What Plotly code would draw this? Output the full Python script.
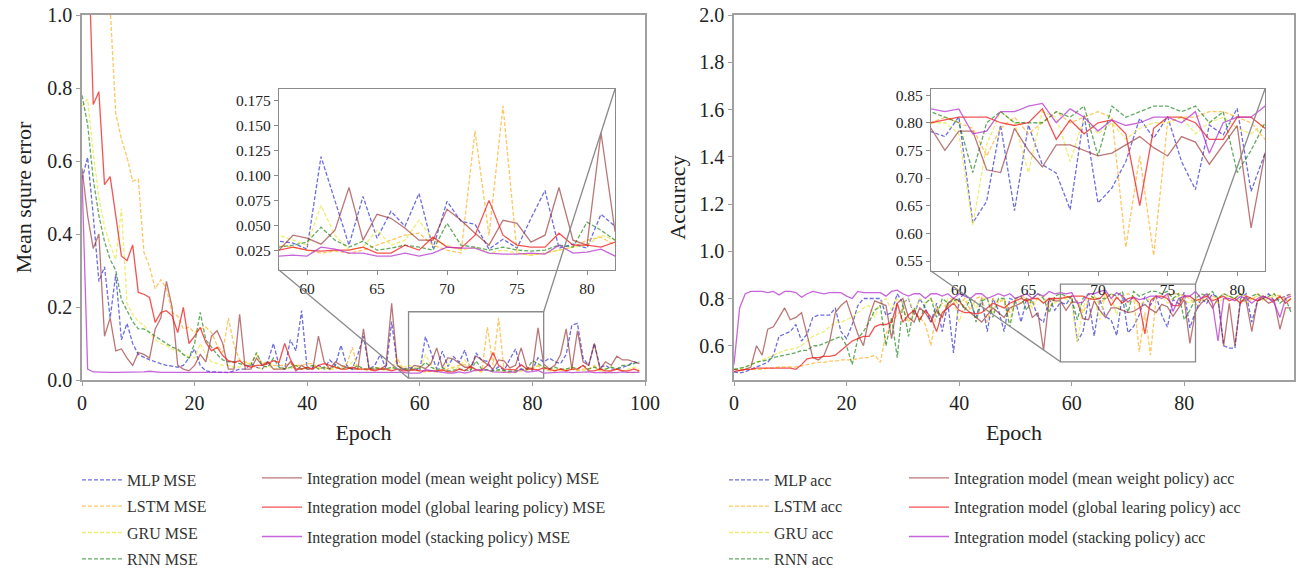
import plotly.graph_objects as go

epochs = list(range(100))

# ---------------- MSE data (epochs 0..99) ----------------
mlp_mse = [0.55,0.61,0.45,0.27,0.31,0.17,0.29,0.11,0.155,0.10,
           0.07,0.062,0.055,0.05,0.045,0.04,0.038,0.035,0.04,0.06,
           0.085,0.04,0.025,0.022,0.022,0.02,0.02,0.025,0.03,0.03,
           0.045,0.035,0.03,0.05,0.1,0.04,0.03,0.11,0.08,0.19,
           0.03,0.035,0.04,0.03,0.055,0.04,0.095,0.04,0.03,0.07,
           0.12,0.03,0.04,0.07,0.03,0.16,0.04,0.03,
           0.034,0.032,0.026,0.119,0.074,0.03,0.079,0.037,0.064,0.049,0.082,0.027,
           0.074,0.054,0.051,0.026,0.036,0.027,0.057,0.085,0.027,0.031,0.027,0.061,0.049,
           0.06,0.05,0.045,0.07,0.15,0.155,0.06,0.04,0.1,0.035,0.04,0.03,0.03,0.035,0.04,0.05,0.045]
lstm_mse = [1.9,1.6,1.4,1.25,1.12,1.02,0.73,0.66,0.61,0.545,
            0.55,0.35,0.31,0.25,0.275,0.25,0.185,0.175,0.14,0.145,
            0.13,0.14,0.145,0.13,0.095,0.075,0.17,0.095,0.055,0.05,
            0.045,0.07,0.045,0.05,0.04,0.04,0.04,0.045,0.04,0.04,
            0.045,0.045,0.03,0.035,0.03,0.03,0.035,0.04,0.09,0.03,
            0.03,0.025,0.03,0.035,0.03,0.03,0.06,0.03,
            0.03,0.028,0.025,0.022,0.024,0.022,0.025,0.03,0.035,0.04,0.042,0.03,
            0.025,0.022,0.145,0.04,0.17,0.022,0.02,0.022,0.025,0.028,0.035,0.038,0.03,
            0.025,0.025,0.03,0.025,0.03,0.025,0.03,0.03,0.04,0.025,0.02,0.025,0.03,0.025,0.02,0.02,0.025]
gru_mse = [0.75,0.77,0.62,0.5,0.42,0.37,0.33,0.47,0.21,0.18,
           0.16,0.15,0.13,0.11,0.1,0.095,0.085,0.08,0.07,0.065,
           0.06,0.1,0.07,0.05,0.045,0.04,0.04,0.035,0.035,0.05,
           0.04,0.035,0.03,0.04,0.03,0.03,0.035,0.03,0.04,0.03,
           0.03,0.04,0.035,0.03,0.03,0.035,0.03,0.03,0.05,0.03,
           0.03,0.03,0.035,0.03,0.025,0.03,0.04,0.035,
           0.04,0.035,0.03,0.07,0.04,0.025,0.028,0.045,0.03,0.035,0.055,0.035,
           0.03,0.025,0.028,0.022,0.025,0.022,0.02,0.022,0.025,0.028,0.03,0.04,0.035,
           0.03,0.03,0.025,0.03,0.035,0.03,0.025,0.03,0.035,0.025,0.03,0.035,0.03,0.025,0.03,0.035,0.03]
rnn_mse = [0.78,0.7,0.55,0.45,0.38,0.33,0.3,0.22,0.19,0.16,
           0.14,0.14,0.13,0.12,0.11,0.1,0.09,0.085,0.07,0.06,
           0.1,0.185,0.11,0.09,0.07,0.055,0.05,0.05,0.045,0.04,
           0.04,0.075,0.04,0.035,0.06,0.035,0.03,0.035,0.04,0.03,
           0.035,0.04,0.03,0.035,0.03,0.04,0.03,0.035,0.03,0.04,
           0.03,0.03,0.035,0.03,0.03,0.035,0.03,0.03,
           0.028,0.03,0.033,0.048,0.035,0.028,0.034,0.025,0.027,0.03,0.028,0.025,
           0.052,0.03,0.028,0.025,0.028,0.025,0.024,0.025,0.03,0.028,0.053,0.045,0.035,
           0.03,0.035,0.03,0.03,0.035,0.03,0.04,0.03,0.035,0.03,0.03,0.035,0.03,0.04,0.04,0.045,0.05]
mean_mse = [0.58,0.45,0.36,0.4,0.12,0.17,0.08,0.085,0.06,0.04,
            0.075,0.07,0.06,0.14,0.17,0.27,0.2,0.04,0.03,0.025,
            0.04,0.07,0.05,0.12,0.135,0.1,0.03,0.03,0.18,0.03,
            0.03,0.06,0.04,0.05,0.03,0.03,0.03,0.05,0.025,0.04,
            0.03,0.03,0.12,0.05,0.03,0.05,0.04,0.035,0.03,0.03,
            0.14,0.03,0.03,0.03,0.04,0.21,0.04,0.03,
            0.025,0.04,0.037,0.031,0.045,0.088,0.035,0.061,0.057,0.047,0.035,0.035,
            0.066,0.055,0.042,0.03,0.055,0.052,0.033,0.04,0.088,0.035,0.03,0.143,0.044,
            0.03,0.04,0.07,0.14,0.03,0.135,0.05,0.04,0.1,0.03,0.05,0.04,0.065,0.055,0.055,0.05,0.045]
global_mse = [1.6,1.25,0.755,0.79,0.535,0.557,0.45,0.34,0.327,0.37,
              0.24,0.235,0.226,0.158,0.185,0.19,0.176,0.13,0.199,0.1,
              0.12,0.144,0.103,0.08,0.09,0.067,0.053,0.048,0.053,0.04,
              0.035,0.04,0.04,0.045,0.053,0.048,0.1,0.057,0.03,0.03,
              0.035,0.03,0.04,0.045,0.04,0.035,0.03,0.03,0.035,0.03,
              0.03,0.03,0.025,0.03,0.03,0.025,0.03,0.025,
              0.025,0.028,0.025,0.024,0.025,0.025,0.028,0.022,0.022,0.03,0.025,0.038,
              0.028,0.027,0.04,0.075,0.04,0.03,0.028,0.028,0.042,0.03,0.03,0.028,0.033,
              0.03,0.025,0.03,0.025,0.03,0.03,0.04,0.025,0.025,0.03,0.025,0.025,0.03,0.025,0.025,0.03,0.025]
stack_mse = [0.56,0.03,0.022,0.021,0.021,0.021,0.021,0.021,0.021,0.021,
             0.022,0.022,0.024,0.022,0.021,0.021,0.021,0.021,0.021,0.021,
             0.021,0.022,0.021,0.021,0.021,0.021,0.021,0.021,0.022,0.021,
             0.021,0.02,0.02,0.021,0.02,0.02,0.021,0.02,0.02,0.021,
             0.02,0.02,0.021,0.02,0.02,0.021,0.02,0.02,0.021,0.02,
             0.02,0.021,0.02,0.02,0.021,0.02,0.02,0.021,
             0.019,0.02,0.019,0.028,0.026,0.022,0.022,0.019,0.019,0.022,0.019,0.022,
             0.028,0.027,0.027,0.022,0.021,0.021,0.022,0.021,0.03,0.022,0.023,0.026,0.019,
             0.02,0.021,0.02,0.022,0.02,0.021,0.02,0.022,0.02,0.021,0.02,0.021,0.02,0.022,0.021,0.02,0.021]

# ---------------- Accuracy data (epochs 0..99) ----------------
mlp_acc = [0.49,0.485,0.49,0.5,0.51,0.52,0.53,0.56,0.64,0.65,
           0.66,0.69,0.62,0.65,0.72,0.73,0.73,0.73,0.76,0.66,
           0.63,0.69,0.77,0.8,0.8,0.8,0.8,0.73,0.74,0.82,
           0.78,0.8,0.73,0.8,0.76,0.7,0.78,0.66,0.78,0.57,
           0.8,0.82,0.79,0.72,0.8,0.66,0.8,0.75,0.66,0.8,
           0.79,0.7,0.8,0.79,0.72,0.7,0.8,0.75,
           0.784,0.775,0.811,0.619,0.658,0.796,0.641,0.796,0.724,0.709,0.643,0.814,
           0.655,0.682,0.73,0.808,0.772,0.811,0.73,0.679,0.796,0.778,0.826,0.676,0.745,
           0.8,0.78,0.82,0.8,0.6,0.59,0.59,0.8,0.82,0.7,0.79,0.8,0.82,0.79,0.8,0.81,0.82]
lstm_acc = [0.5,0.5,0.5,0.5,0.5,0.5,0.505,0.505,0.51,0.51,
            0.51,0.51,0.515,0.52,0.525,0.53,0.53,0.535,0.535,0.54,
            0.54,0.54,0.545,0.55,0.55,0.56,0.53,0.65,0.7,0.73,
            0.76,0.7,0.74,0.72,0.69,0.6,0.75,0.78,0.76,0.8,
            0.77,0.8,0.75,0.8,0.81,0.7,0.8,0.78,0.8,0.74,
            0.8,0.81,0.8,0.78,0.8,0.81,0.76,0.8,
            0.80,0.81,0.80,0.79,0.74,0.79,0.81,0.78,0.80,0.82,0.80,0.81,
            0.82,0.81,0.575,0.74,0.56,0.80,0.81,0.81,0.82,0.82,0.81,0.80,0.77,
            0.8,0.82,0.81,0.8,0.82,0.81,0.8,0.82,0.81,0.79,0.82,0.81,0.8,0.82,0.81,0.8,0.82]
gru_acc = [0.5,0.5,0.51,0.52,0.53,0.54,0.55,0.56,0.57,0.58,
           0.585,0.59,0.6,0.62,0.64,0.65,0.66,0.68,0.7,0.7,
           0.71,0.72,0.74,0.76,0.77,0.72,0.78,0.8,0.75,0.8,
           0.78,0.8,0.74,0.8,0.78,0.8,0.76,0.72,0.8,0.8,
           0.7,0.78,0.8,0.76,0.8,0.8,0.74,0.8,0.78,0.7,
           0.8,0.78,0.8,0.76,0.8,0.78,0.8,0.78,
           0.80,0.80,0.78,0.615,0.76,0.82,0.80,0.71,0.82,0.81,0.73,0.81,
           0.78,0.80,0.77,0.79,0.80,0.80,0.81,0.78,0.80,0.81,0.79,0.78,0.80,
           0.79,0.81,0.8,0.78,0.8,0.81,0.79,0.8,0.78,0.8,0.81,0.79,0.8,0.81,0.8,0.79,0.8]
rnn_acc = [0.5,0.505,0.51,0.52,0.53,0.535,0.54,0.55,0.555,0.56,
           0.565,0.57,0.58,0.58,0.6,0.6,0.61,0.62,0.63,0.64,
           0.6,0.52,0.63,0.66,0.7,0.75,0.77,0.6,0.72,0.55,
           0.78,0.64,0.76,0.7,0.78,0.8,0.72,0.8,0.78,0.79,
           0.8,0.75,0.8,0.7,0.79,0.8,0.72,0.8,0.8,0.68,
           0.8,0.81,0.75,0.8,0.82,0.8,0.74,0.81,
           0.82,0.81,0.80,0.71,0.80,0.82,0.80,0.80,0.80,0.82,0.81,0.83,
           0.74,0.83,0.81,0.82,0.83,0.83,0.82,0.83,0.80,0.82,0.71,0.75,0.80,
           0.82,0.81,0.83,0.8,0.82,0.81,0.8,0.82,0.79,0.81,0.82,0.8,0.81,0.82,0.78,0.8,0.74]
mean_acc = [0.5,0.495,0.5,0.51,0.6,0.56,0.67,0.68,0.72,0.76,
            0.71,0.72,0.74,0.64,0.55,0.54,0.56,0.62,0.74,0.77,
            0.79,0.72,0.65,0.6,0.72,0.79,0.78,0.77,0.63,0.78,
            0.8,0.72,0.7,0.76,0.74,0.7,0.75,0.72,0.78,0.8,
            0.79,0.76,0.74,0.72,0.7,0.73,0.76,0.74,0.72,0.76,
            0.77,0.78,0.8,0.72,0.74,0.58,0.8,0.79,
            0.79,0.75,0.785,0.785,0.715,0.71,0.79,0.75,0.72,0.76,0.76,0.75,
            0.74,0.745,0.76,0.775,0.755,0.74,0.775,0.765,0.725,0.76,0.795,0.61,0.745,
            0.78,0.8,0.76,0.8,0.6,0.78,0.6,0.79,0.79,0.66,0.79,0.8,0.78,0.79,0.67,0.76,0.76]
global_acc = [0.49,0.495,0.5,0.5,0.505,0.505,0.505,0.505,0.505,0.505,
              0.505,0.5,0.52,0.545,0.55,0.55,0.555,0.555,0.56,0.58,
              0.6,0.62,0.63,0.64,0.64,0.68,0.69,0.69,0.7,0.78,
              0.7,0.73,0.75,0.71,0.75,0.72,0.66,0.74,0.76,0.78,
              0.75,0.74,0.74,0.735,0.74,0.76,0.78,0.77,0.76,0.78,
              0.79,0.8,0.79,0.8,0.8,0.78,0.8,0.8,
              0.80,0.805,0.81,0.81,0.81,0.80,0.795,0.80,0.825,0.77,0.805,0.78,
              0.80,0.805,0.78,0.65,0.79,0.81,0.81,0.80,0.77,0.77,0.81,0.81,0.79,
              0.8,0.81,0.79,0.8,0.81,0.79,0.8,0.78,0.81,0.8,0.79,0.81,0.8,0.79,0.81,0.78,0.8]
stack_acc = [0.52,0.76,0.82,0.83,0.83,0.83,0.825,0.83,0.815,0.83,
             0.83,0.825,0.805,0.82,0.83,0.825,0.82,0.825,0.825,0.825,
             0.81,0.8,0.83,0.825,0.825,0.825,0.825,0.81,0.83,0.835,
             0.82,0.81,0.82,0.82,0.8,0.82,0.82,0.81,0.82,0.8,
             0.82,0.81,0.8,0.82,0.82,0.8,0.81,0.82,0.81,0.82,
             0.8,0.81,0.82,0.8,0.82,0.81,0.83,0.82,
             0.825,0.82,0.825,0.78,0.785,0.82,0.82,0.83,0.835,0.80,0.825,0.81,
             0.785,0.805,0.795,0.80,0.81,0.81,0.80,0.82,0.745,0.80,0.81,0.81,0.83,
             0.8,0.82,0.78,0.62,0.8,0.8,0.79,0.81,0.8,0.78,0.8,0.81,0.8,0.78,0.72,0.8,0.81]

model_names = ["MLP", "LSTM", "GRU", "RNN",
               "Integration model (mean weight policy)",
               "Integration model (global learing policy)",
               "Integration model (stacking policy)"]
mse_series = [mlp_mse, lstm_mse, gru_mse, rnn_mse, mean_mse, global_mse, stack_mse]
acc_series = [mlp_acc, lstm_acc, gru_acc, rnn_acc, mean_acc, global_acc, stack_acc]
colors = ["rgba(60,60,215,0.75)", "rgba(255,175,30,0.7)", "rgba(232,232,70,0.75)",
          "rgba(30,135,30,0.7)", "rgba(145,35,35,0.62)", "rgba(240,25,25,0.75)",
          "rgba(180,50,205,0.75)"]
dashes = ["4px,2px", "4px,2px", "4px,2px", "4px,2px", "solid", "solid", "solid"]

W, H = 1296, 573
def px_dom(a, b):
    return [a / W, b / W]
def py_dom(top, bottom):
    return [(H - bottom) / H, (H - top) / H]

X1 = px_dom(82, 645);  Y1 = py_dom(15, 380)
X2 = px_dom(734, 1294); Y2 = py_dom(15, 380)
X3 = px_dom(279, 615); Y3 = py_dom(89, 270)
X4 = px_dom(931, 1265); Y4 = py_dom(89, 271)

R1x, R1y = [0, 100], [0, 1.0]
R2x, R2y = [0, 99.5], [0.455, 2.0]
R3x, R3y = [58, 82], [0.005, 0.187]
R4x, R4y = [58, 82], [0.532, 0.861]

FONT = "Liberation Serif"
fig = go.Figure()

for i, name in enumerate(model_names):
    col_legend_mse = "legend" if i < 4 else "legend2"
    col_legend_acc = "legend3" if i < 4 else "legend4"
    line = dict(color=colors[i], width=1.3, dash=dashes[i])
    fig.add_trace(go.Scatter(x=epochs, y=mse_series[i], mode="lines", line=line,
                             name=name + " MSE", legend=col_legend_mse,
                             legendgroup="m%d" % i, xaxis="x", yaxis="y"))
    fig.add_trace(go.Scatter(x=epochs, y=acc_series[i], mode="lines", line=line,
                             name=name + " acc", legend=col_legend_acc,
                             legendgroup="a%d" % i, xaxis="x2", yaxis="y2"))
for i, name in enumerate(model_names):
    line = dict(color=colors[i], width=1.3, dash=dashes[i])
    fig.add_trace(go.Scatter(x=epochs, y=mse_series[i], mode="lines", line=line,
                             showlegend=False, xaxis="x3", yaxis="y3", hoverinfo="skip"))
    fig.add_trace(go.Scatter(x=epochs, y=acc_series[i], mode="lines", line=line,
                             showlegend=False, xaxis="x4", yaxis="y4", hoverinfo="skip"))

axis_common = dict(showline=True, mirror=True, linecolor="#a0a0a0", linewidth=1.5,
                   ticks="outside", ticklen=4, tickcolor="#a0a0a0", showgrid=False,
                   zeroline=False, automargin=False,
                   tickfont=dict(family=FONT, size=20, color="#222"))
inset_common = dict(showline=True, mirror=True, linecolor="#8a8a8a", linewidth=1.3,
                    ticks="outside", ticklen=4, tickcolor="#8a8a8a", showgrid=False,
                    zeroline=False, automargin=False,
                    tickfont=dict(family=FONT, size=15.5, color="#222"))
title_font = dict(family=FONT, size=22, color="#222")

fig.update_layout(
    width=W, height=H, margin=dict(l=0, r=0, t=0, b=0, pad=0, autoexpand=False),
    paper_bgcolor="white", plot_bgcolor="white",
    xaxis=dict(axis_common, domain=X1, range=R1x, dtick=20, anchor="y",
               title=dict(text="Epoch", font=title_font, standoff=12)),
    yaxis=dict(axis_common, domain=Y1, range=R1y, dtick=0.2, tickformat=".1f", anchor="x",
               title=dict(text="Mean squre error", font=title_font, standoff=10)),
    xaxis2=dict(axis_common, domain=X2, range=R2x, dtick=20, anchor="y2",
                title=dict(text="Epoch", font=title_font, standoff=12)),
    yaxis2=dict(axis_common, domain=Y2, range=R2y, tick0=0.6, dtick=0.2, tickformat=".1f",
                anchor="x2", title=dict(text="Accuracy", font=title_font, standoff=8)),
    xaxis3=dict(inset_common, domain=X3, range=R3x, dtick=5, anchor="y3"),
    yaxis3=dict(inset_common, domain=Y3, range=R3y, tick0=0.025, dtick=0.025,
                tickformat=".3f", anchor="x3"),
    xaxis4=dict(inset_common, domain=X4, range=R4x, dtick=5, anchor="y4"),
    yaxis4=dict(inset_common, domain=Y4, range=R4y, tick0=0.55, dtick=0.05,
                tickformat=".2f", anchor="x4"),
)

leg_font = dict(family=FONT, size=16, color="#333")
def legend_cfg(xpx, ytop, gap):
    return dict(x=xpx / W, y=(H - ytop) / H, xanchor="left", yanchor="top",
                font=leg_font, bgcolor="rgba(0,0,0,0)", traceorder="grouped",
                tracegroupgap=gap, orientation="v", itemwidth=40)
fig.update_layout(legend=legend_cfg(77, 463, 2.5), legend2=legend_cfg(257, 461, 5.5),
                  legend3=legend_cfg(724, 463, 2.5), legend4=legend_cfg(904, 461, 5.5))

# zoom rectangles and connector lines
def to_paper(dom, rng, v):
    return dom[0] + (v - rng[0]) / (rng[1] - rng[0]) * (dom[1] - dom[0])

shapes = []
for (xa, ya, XD, YD, RX, RY, IX, IY, RIX, RIY) in [
        ("x", "y", X1, Y1, R1x, R1y, X3, Y3, R3x, R3y),
        ("x2", "y2", X2, Y2, R2x, R2y, X4, Y4, R4x, R4y)]:
    shapes.append(dict(type="rect", xref=xa, yref=ya, x0=RIX[0], x1=RIX[1], y0=RIY[0], y1=RIY[1],
                       line=dict(color="#8a8a8a", width=1.3), layer="above"))
    shapes.append(dict(type="line", xref="paper", yref="paper",
                       x0=to_paper(XD, RX, RIX[0]), y0=to_paper(YD, RY, RIY[0]),
                       x1=IX[0], y1=IY[0], line=dict(color="#8a8a8a", width=1.3), layer="above"))
    shapes.append(dict(type="line", xref="paper", yref="paper",
                       x0=to_paper(XD, RX, RIX[1]), y0=to_paper(YD, RY, RIY[1]),
                       x1=IX[1], y1=IY[1], line=dict(color="#8a8a8a", width=1.3), layer="above"))
fig.update_layout(shapes=shapes)

fig.write_html("out.html", config={"displayModeBar": False},
               post_script="document.body.style.margin='0';")
